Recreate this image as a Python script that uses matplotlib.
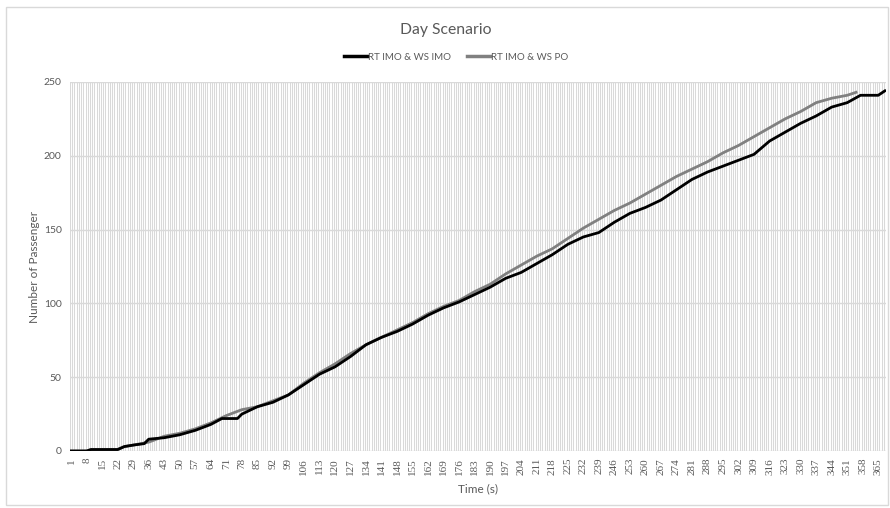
import matplotlib
matplotlib.use("Agg")
import matplotlib.pyplot as plt
from matplotlib.patches import Rectangle
from matplotlib.lines import Line2D

title = "Day Scenario"
x_label = "Time (s)"
y_label = "Number of Passenger"
n_categories = 368
series_names = ["RT IMO & WS IMO", "RT IMO & WS PO"]

imo_time = [1, 8, 10, 15, 22, 25, 29, 34, 36, 43, 50, 57, 64, 69, 71, 76, 78, 85, 92, 99,
            106, 113, 120, 127, 134, 141, 148, 155, 162, 169, 176, 183, 190, 197, 204,
            211, 218, 225, 232, 239, 246, 253, 260, 267, 274, 281, 288, 295, 302, 309,
            316, 323, 330, 337, 344, 351, 357, 365, 368]
imo_vals = [0, 0, 1, 1, 1, 3, 4, 5, 8, 9, 11, 14, 18, 22, 22, 22, 25, 30, 33, 38,
            45, 52, 57, 64, 72, 77, 81, 86, 92, 97, 101, 106, 111, 117, 121,
            127, 133, 140, 145, 148, 155, 161, 165, 170, 177, 184, 189, 193, 197, 201,
            210, 216, 222, 227, 233, 236, 241, 241, 244]

po_time = [1, 8, 10, 15, 22, 25, 29, 36, 43, 50, 57, 64, 71, 78, 85, 92, 99,
           106, 113, 120, 127, 134, 141, 148, 155, 162, 169, 176, 183, 190, 197, 204,
           211, 218, 225, 232, 239, 246, 253, 260, 267, 274, 281, 288, 295, 302, 309,
           316, 323, 330, 337, 344, 351, 355]
po_vals = [0, 0, 1, 1, 1, 3, 4, 6, 10, 12, 15, 19, 24, 28, 30, 34, 38,
           46, 53, 59, 66, 72, 77, 82, 87, 93, 98, 102, 108, 113, 120, 126,
           132, 137, 144, 151, 157, 163, 168, 174, 180, 186, 191, 196, 202, 207, 213,
           219, 225, 230, 236, 239, 241, 243]

y_ticks = [0, 50, 100, 150, 200, 250]
x_tick_cats = list(range(1, n_categories + 1, 7))

text_color = "#595959"
grid_color = "#d9d9d9"

fig = plt.figure(figsize=(8.9, 5.08), dpi=100)
fig.patches.append(Rectangle((6 / 890, 3 / 508), 882 / 890, 498 / 508, transform=fig.transFigure,
                             fill=False, edgecolor="#d9d9d9", linewidth=1))

ax = fig.add_axes([70 / 890, 1 - 451 / 508, 816 / 890, 369 / 508])
ax.set_xlim(0.5, n_categories + 0.5)
ax.set_ylim(0, 250)

# dense vertical category gridlines
for c in range(0, n_categories + 1):
    ax.axvline(c + 0.5, color=grid_color, linewidth=0.75, zorder=0)
for y in y_ticks:
    ax.axhline(y, color=grid_color, linewidth=1.0, zorder=0.5)

ax.plot(imo_time, imo_vals, color="black", linewidth=2.0, solid_joinstyle="round", zorder=3)
ax.plot(po_time, po_vals, color="#808080", linewidth=2.0, solid_joinstyle="round", zorder=2)

for s in ax.spines.values():
    s.set_visible(False)

ax.set_yticks(y_ticks)
ax.set_yticklabels([str(v) for v in y_ticks], fontsize=7.5, color=text_color, family="Lato")
ax.set_xticks(x_tick_cats)
ax.set_xticklabels([str(v) for v in x_tick_cats], rotation=90, fontsize=8,
                   color=text_color, family="Liberation Serif")
ax.tick_params(axis="both", length=0, pad=6)
ax.tick_params(axis="x", pad=5)

ax.set_xlabel(x_label, fontsize=8.5, color=text_color, family="Lato", labelpad=6)
ax.set_ylabel(y_label, fontsize=8.5, color=text_color, family="Lato", labelpad=3)

fig.text(446 / 890, 1 - 30 / 508, title, ha="center", va="center", fontsize=11.3,
         color=text_color, family="Lato")

handles = [Line2D([], [], color="black", linewidth=2.5),
           Line2D([], [], color="#808080", linewidth=2.5)]
leg = fig.legend(handles, series_names, loc="center", bbox_to_anchor=(456 / 890, 1 - 57 / 508),
                 ncol=2, frameon=False, fontsize=7, handlelength=2.4, handletextpad=0.1,
                 columnspacing=1.6, borderpad=0)
for t in leg.get_texts():
    t.set_color(text_color)
    t.set_family("Lato")

fig.savefig("out.png", dpi=100)
